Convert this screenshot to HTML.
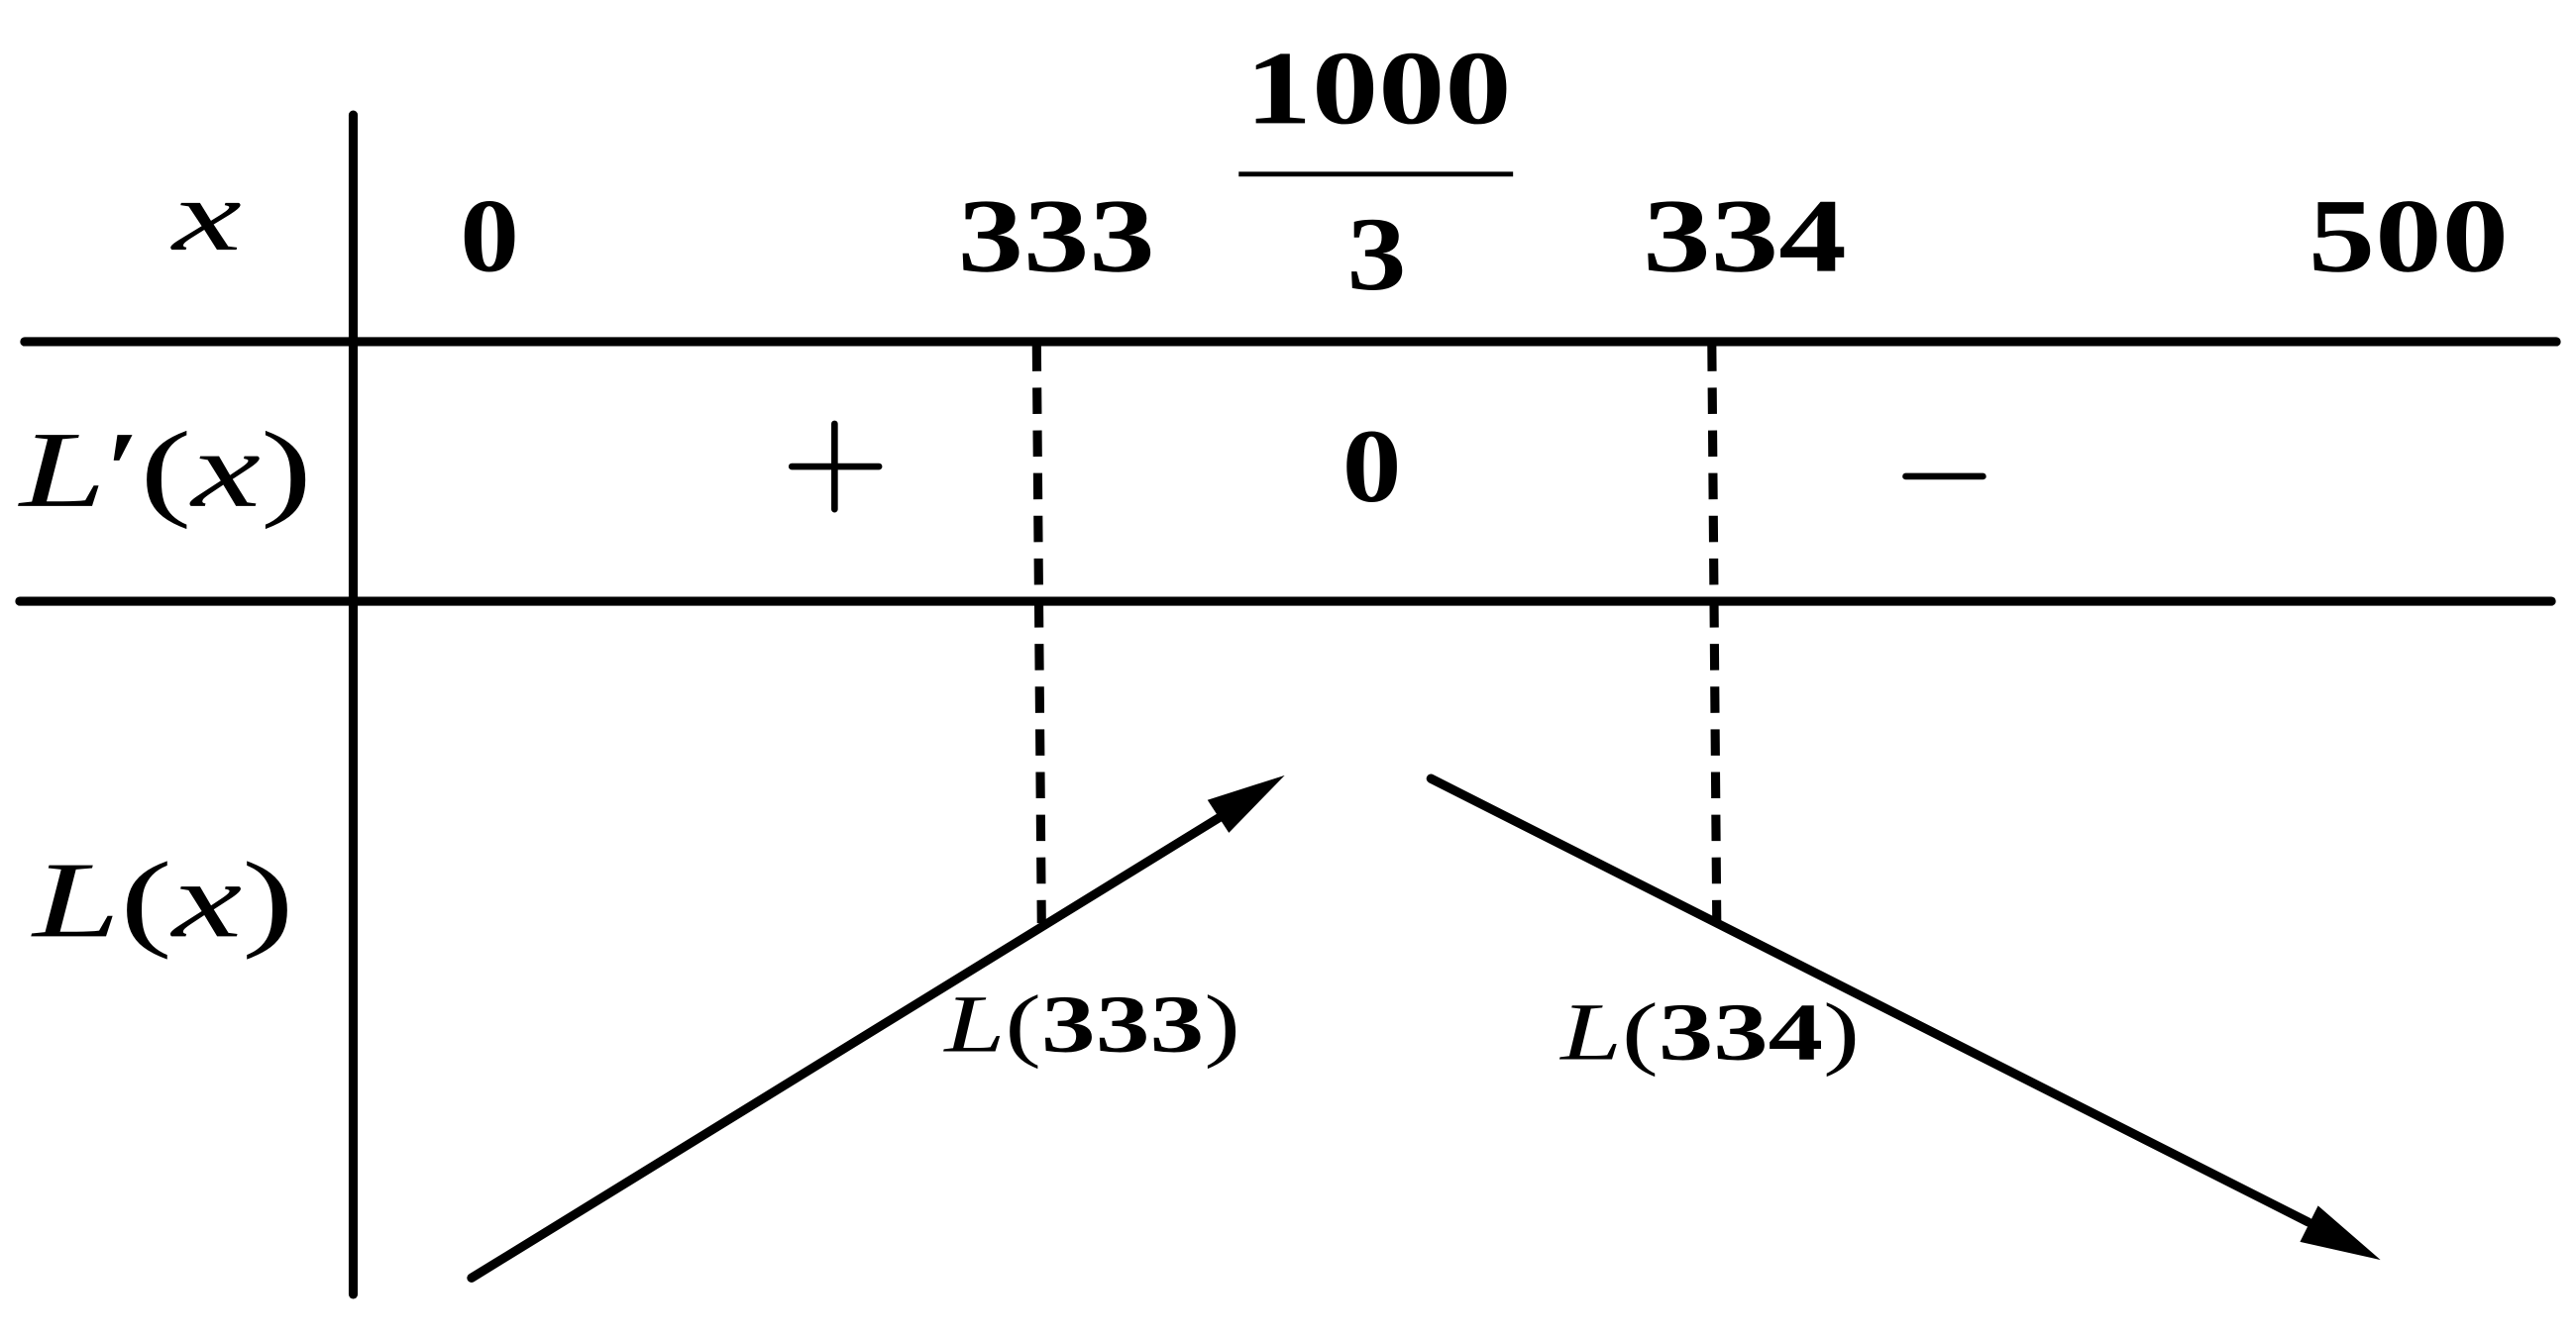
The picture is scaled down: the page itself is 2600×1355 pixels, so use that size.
<!DOCTYPE html>
<html><head><meta charset="utf-8"><style>
html,body{margin:0;padding:0;background:#fff;}
svg{display:block;}
text{font-family:"Liberation Serif",serif;fill:#000;}
.n{font-weight:bold;font-size:64px;}
.i{font-style:italic;}
</style></head><body>
<svg width="2600" height="1355" viewBox="0 0 1568 817" preserveAspectRatio="none" xmlns="http://www.w3.org/2000/svg">
<g stroke="#000" stroke-width="5.5" stroke-linecap="round" fill="none">
<line x1="215" y1="70" x2="215" y2="788"/>
<line x1="15" y1="208" x2="1556" y2="208"/>
<line x1="12" y1="366" x2="1553" y2="366"/>
<line x1="754" y1="106" x2="921" y2="106" stroke-width="3" stroke-linecap="butt"/>
<line x1="631" y1="210" x2="634" y2="562" stroke-dasharray="16,10" stroke-linecap="butt"/>
<line x1="1042" y1="210" x2="1045" y2="562" stroke-dasharray="16,10" stroke-linecap="butt"/>
<line x1="287" y1="778" x2="745" y2="496"/>
<line x1="871" y1="474" x2="1405" y2="744"/>
<line x1="482" y1="284" x2="535" y2="284" stroke-width="4"/>
<line x1="508" y1="258" x2="508" y2="310" stroke-width="4"/>
<line x1="1160" y1="290" x2="1207" y2="290" stroke-width="4"/>
</g>
<polygon points="782,472 748,507 735,487" fill="#000"/>
<polygon points="1449,767 1400,756 1411,734" fill="#000"/>
<text x="105" y="152" class="i" font-size="62" textLength="42" lengthAdjust="spacingAndGlyphs">x</text>
<text x="280" y="165" class="n" textLength="36" lengthAdjust="spacingAndGlyphs">0</text>
<text x="583" y="165" class="n" textLength="120" lengthAdjust="spacingAndGlyphs">333</text>
<text x="758" y="75" class="n" textLength="162" lengthAdjust="spacingAndGlyphs">1000</text>
<text x="820" y="176" class="n" textLength="36" lengthAdjust="spacingAndGlyphs">3</text>
<text x="1000" y="165" class="n" textLength="124" lengthAdjust="spacingAndGlyphs">334</text>
<text x="1405" y="165" class="n" textLength="122" lengthAdjust="spacingAndGlyphs">500</text>
<text x="12" y="308" font-size="66" textLength="178" lengthAdjust="spacingAndGlyphs"><tspan class="i">L</tspan>′(<tspan class="i">x</tspan>)</text>
<text x="817" y="305" class="n" textLength="36" lengthAdjust="spacingAndGlyphs">0</text>
<text x="20" y="570" font-size="66" textLength="159" lengthAdjust="spacingAndGlyphs"><tspan class="i">L</tspan>(<tspan class="i">x</tspan>)</text>
<text x="575" y="640" font-size="50" textLength="180" lengthAdjust="spacingAndGlyphs"><tspan class="i">L</tspan>(<tspan font-weight="bold">333</tspan>)</text>
<text x="950" y="645" font-size="50" textLength="182" lengthAdjust="spacingAndGlyphs"><tspan class="i">L</tspan>(<tspan font-weight="bold">334</tspan>)</text>
</svg>
</body></html>
